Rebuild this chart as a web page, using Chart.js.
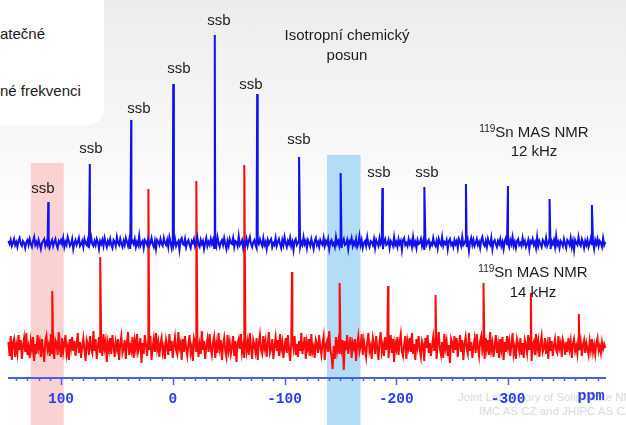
<!DOCTYPE html>
<html><head><meta charset="utf-8">
<script src="https://cdn.jsdelivr.net/npm/chart.js@4"></script>
<style>
html,body{margin:0;padding:0;}
body{width:626px;height:425px;overflow:hidden;position:relative;
 background:linear-gradient(180deg,#ececec 0px,#f2f2f2 70px,#f8f8f8 150px,#ffffff 230px);
 font-family:"Liberation Sans",Arial,sans-serif;}
#box{position:absolute;left:-20px;top:-20px;width:124px;height:145px;background:#fff;border-radius:16px;}
.t{position:absolute;font-size:15px;color:#1c1c1c;white-space:nowrap;transform:translate(-50%,-50%);line-height:1;}
.l{position:absolute;font-size:15px;color:#1c1c1c;white-space:nowrap;transform:translateY(-50%);line-height:1;}
.t sup{font-size:10px;vertical-align:0;position:relative;top:-5px;}
.wm{position:absolute;font-size:11.5px;color:#dadada;white-space:nowrap;transform:translateY(-50%);line-height:1;}
#wrap{position:absolute;left:0;top:0;width:626px;height:425px;}
</style></head>
<body>
<div id="box"></div>
<div class="l" style="left:0px;top:33px">atečné</div>
<div class="l" style="left:0px;top:90px">né frekvenci</div>
<div class="wm" style="left:458px;top:398px">Joint Laboratory of Solid State NMR</div>
<div class="wm" style="left:479px;top:412px">IMC AS CZ and JHIPC AS CZ</div>
<div id="wrap"><canvas id="c" width="626" height="425"></canvas></div>
<div class="t" style="left:43px;top:187px">ssb</div>
<div class="t" style="left:91px;top:147px">ssb</div>
<div class="t" style="left:139px;top:107px">ssb</div>
<div class="t" style="left:179px;top:67px">ssb</div>
<div class="t" style="left:219px;top:19px">ssb</div>
<div class="t" style="left:251px;top:83px">ssb</div>
<div class="t" style="left:299px;top:138px">ssb</div>
<div class="t" style="left:379px;top:171px">ssb</div>
<div class="t" style="left:427px;top:171px">ssb</div>
<div class="t" style="left:347px;top:34px">Isotropní chemický</div>
<div class="t" style="left:347px;top:54px">posun</div>
<div class="t" style="left:534px;top:131px"><sup>119</sup>Sn MAS NMR</div>
<div class="t" style="left:534px;top:150px">12 kHz</div>
<div class="t" style="left:533px;top:271px"><sup>119</sup>Sn MAS NMR</div>
<div class="t" style="left:533px;top:291px">14 kHz</div>
<script>
// ---- data ----
const ppmStart = 147;      // first noise sample (ppm)
const ppmStep = -1;        // sample spacing (ppm)
const ppmMin = -387.6, ppmMax = 147.4;
const tickValues = [100, 0, -100, -200, -300];

// 12 kHz spectrum (blue): spinning sidebands + isotropic line
const peaks12ppm = [111.4, 74.2, 37.2, -0.4, -37.6, -75.5, -113.0, -150.2, -187.5, -225.1, -262.3, -299.9, -337.1, -375.0];
const peaks12int = [41, 79, 123, 159, 208, 149, 86, 70, 55, 56, 59, 57, 44, 38];
const noise12 = [
 2,-1,3,-3,0,4,-2,1,-4,2,5,-1,-3,2,0,-5,1,3,-2,4,
 -1,-4,2,6,-2,1,-3,3,-1,-6,0,2,4,-3,1,-2,5,-4,0,3,
 -3,1,4,-2,-5,2,0,3,-1,5,-4,1,-2,6,2,-3,-1,4,-6,0,
 3,-2,1,5,-3,-1,2,-4,4,0,-2,3,-5,1,6,-1,-3,2,-2,4,
 1,-6,2,-1,3,-3,5,0,-4,2,-1,4,-2,-5,3,1,-3,6,0,-2,
 4,-1,-4,2,-2,5,1,-3,3,-6,0,2,-1,4,-4,1,-2,7,-3,0,
 2,-5,3,1,-2,4,-3,0,5,-1,-4,2,-6,3,1,-2,4,-1,-3,5,
 0,-2,3,-4,6,1,-5,2,-1,4,-3,0,2,-7,3,5,-1,-2,4,-4,
 1,3,-2,-5,2,0,4,-3,1,6,-2,-4,3,-1,2,-6,0,5,-3,1,
 -2,4,-1,3,-5,2,-3,6,0,-4,1,3,-2,5,-1,-6,2,-3,4,0,
 -1,5,-4,2,1,-3,7,-2,0,3,-5,1,-2,4,-3,2,6,-1,-4,1,
 3,-2,-5,2,-1,4,0,-3,5,-2,1,-6,3,-1,2,4,-4,0,-2,5,
 -3,1,4,-1,-5,3,-2,6,0,-4,2,-1,5,-3,1,-7,2,4,-2,0,
 3,-4,1,-2,6,-1,2,-5,3,0,-3,4,-1,-6,2,5,-2,1,-4,3,
 0,-2,5,-3,2,-1,4,-6,1,3,-2,0,-4,6,-1,2,-3,5,-5,1,
 4,-2,-1,3,-6,2,0,5,-3,1,-2,4,-4,-1,7,-2,3,-5,0,2,
 -3,6,-1,-4,2,1,-2,4,-5,3,0,-3,5,-1,2,-6,1,4,-2,-1,
 3,-5,2,0,-3,6,-2,1,-4,4,-1,2,-7,3,5,-2,0,-3,4,-1,
 2,-4,6,-2,1,-5,3,-1,0,4,-3,2,-6,5,-2,1,3,-4,0,-2,
 5,-1,-3,2,-5,4,0,-2,6,-3,1,-1,3,-6,2,4,-2,0,-4,3,
 -1,2,-5,4,1,-3,6,-2,0,3,-4,2,-8,1,5,-2,3,-3,0,4,
 -2,1,-5,3,6,-1,-3,2,-4,4,0,-2,5,-6,1,3,-1,-4,2,-1,
 4,-3,1,-6,2,5,-2,0,-4,3,-1,6,-3,1,-5,2,4,-2,0,-3,
 5,-1,2,-4,-1,3,-6,2,0,4,-2,1,-5,6,-3,2,-1,-4,3,1,
 -2,5,-3,0,4,-6,2,-1,3,-4,7,-2,1,-5,2,0,-3,4,-1,-5,
 3,1,-2,5,-4,2,-7,3,0,-2,6,-1,-3,4,1,-5,2,-2,3,-4,
 0,5,-2,1,-6,3,-1,4,-3,2,0,-4,5,-2,1
];

// 14 kHz spectrum (red)
const peaks14ppm = [107.8, 64.9, 21.8, -21.1, -64.0, -106.7, -149.3, -192.6, -235.1, -278.0, -320.4, -363.3];
const peaks14int = [56, 90, 158, 166, 182, 75, 64, 61, 52, 64, 54, 33];
const noise14 = [
 5,-9,11,-13,4,8,-10,2,-6,12,-3,7,-12,1,9,-5,14,-8,0,-11,
 6,-2,10,-14,3,-7,12,-1,5,-10,8,-4,-15,6,11,-3,2,-9,13,-6,
 1,-12,7,4,-8,15,-2,-10,9,-5,3,12,-7,0,-13,8,-1,10,-4,6,
 -9,2,14,-6,5,-11,1,9,-3,-14,7,3,-8,11,-2,-6,16,-4,8,-12,
 0,10,-5,3,-9,13,-1,6,-15,4,-3,9,-7,12,2,-10,5,-2,8,-13,
 3,11,-6,-1,7,-12,4,15,-8,1,-4,10,-11,6,-2,13,-5,0,9,-16,
 4,-7,12,2,-9,6,-3,11,-13,-1,8,-5,14,-2,5,-10,3,9,-6,0,
 -12,7,1,-8,13,-4,6,-11,2,10,-3,-7,15,-1,4,-13,8,-5,11,-2,
 -9,3,12,-6,0,-14,9,5,-4,11,-10,2,-7,16,-3,6,-12,1,8,-5,
 13,-2,-8,4,10,-11,3,-6,14,-1,7,-13,2,9,-4,-10,12,-3,5,-7,
 0,11,-9,6,-15,3,8,-2,13,-6,1,-11,10,-4,5,-8,14,-1,-12,7,
 2,-5,9,-13,4,12,-3,-7,11,-1,6,-10,3,15,-6,-2,8,-12,1,10,
 -4,7,-9,13,-2,5,-11,0,9,-6,12,-3,-14,4,8,-1,11,-8,3,-10,
 6,-4,14,-7,1,10,-12,5,-2,8,-9,13,-5,0,-11,7,3,-6,12,-1,
 -8,4,11,-13,2,6,-5,16,-3,-9,-22,1,-12,10,-4,5,-6,9,-2,7,
 -23,6,-3,12,-7,2,10,-11,4,-1,8,-14,3,11,-5,0,13,-8,6,-2,
 -10,5,14,-4,1,-12,9,3,-7,11,-2,-13,6,15,-5,2,-9,10,-3,7,
 -11,1,12,-6,8,-15,4,-2,10,-8,5,13,-4,-9,2,11,-12,6,-1,9,
 -5,14,-7,3,-13,8,0,11,-3,-10,6,2,-14,9,-1,12,-6,4,-9,1,
 10,-4,7,-12,3,15,-2,-8,5,-11,13,-1,6,-9,2,-16,8,4,-6,11,
 -3,9,-10,1,12,-5,7,-13,3,10,-2,-7,14,-4,5,-11,0,8,-6,13,
 -1,-9,6,11,-4,2,-12,9,-2,7,-8,15,-3,4,-10,1,12,-6,3,-11,
 8,-2,10,-13,5,-5,11,-1,6,-9,2,14,-7,0,-12,8,3,-4,9,-8,
 4,-11,7,2,-6,12,-3,9,-14,1,5,-8,13,-2,6,-10,3,11,-5,-1,
 9,-7,2,-12,10,-4,6,-9,1,8,-3,-6,11,-1,4,-10,7,2,-8,5,
 -5,9,-2,6,-11,3,8,-4,1,-7,10,-3,5,-9,2,7,-6,4,-2,-8,
 6,-3,8,-5,2,-7,4,9,-4,1,-6,5,-2,3,-1
];

// stacking offsets of the two spectra (intensity units)
const offset12 = 135, offset14 = 31;
// highlighted regions (ppm)
const bandRanges = [[127, 97.5], [-138, -168]];
const bandTops = [215, 223];
const bandColors = ['#fbd2d2', '#b3ddf6'];

function buildSeries(noise, pk, pkInt, off) {
  const pts = noise.map((v, i) => ({x: ppmStart + i * ppmStep, y: off + v}));
  pk.forEach((p, i) => pts.push({x: p, y: off + pkInt[i]}));
  pts.sort((a, b) => b.x - a.x);
  return pts;
}

const axisColor = '#4a5fe6';
const decor = {
  id: 'decor',
  beforeDraw(chart) {
    const {ctx, scales: {x, y}} = chart;
    ctx.save();
    bandRanges.forEach((r, i) => {
      const x1 = x.getPixelForValue(r[0]), x2 = x.getPixelForValue(r[1]);
      const yt = y.getPixelForValue(bandTops[i]);
      ctx.fillStyle = bandColors[i];
      ctx.fillRect(Math.min(x1, x2), yt, Math.abs(x2 - x1), chart.height - yt);
    });
    ctx.restore();
  },
  afterDraw(chart) {
    const {ctx, scales: {x}, chartArea} = chart;
    const yb = chartArea.bottom;
    ctx.save();
    ctx.strokeStyle = axisColor;
    ctx.lineWidth = 2;
    ctx.beginPath(); ctx.moveTo(x.left, yb); ctx.lineTo(x.right, yb); ctx.stroke();
    ctx.lineWidth = 1.5;
    for (let v = 140; v >= -380; v -= 10) {
      const px = Math.round(x.getPixelForValue(v)) + 0.5;
      const len = (v % 100 === 0) ? 7 : 3;
      ctx.beginPath(); ctx.moveTo(px, yb); ctx.lineTo(px, yb + len); ctx.stroke();
    }
    ctx.fillStyle = '#2a3ee8';
    ctx.font = 'bold 15px "Liberation Mono", monospace';
    ctx.textAlign = 'center'; ctx.textBaseline = 'middle';
    ctx.fillText('ppm', 591, 396);
    ctx.restore();
  }
};

new Chart(document.getElementById('c'), {
  type: 'line',
  data: {
    datasets: [
      {data: buildSeries(noise12, peaks12ppm, peaks12int, offset12), borderColor: '#1010f0', borderWidth: 2, pointRadius: 0, tension: 0, clip: false},
      {data: buildSeries(noise14, peaks14ppm, peaks14int, offset14), borderColor: '#ff0a0a', borderWidth: 2, pointRadius: 0, tension: 0, clip: false}
    ]
  },
  options: {
    responsive: false, animation: false, events: [],
    layout: {padding: {left: 8, right: 20, top: 0, bottom: 0}},
    plugins: {legend: {display: false}, tooltip: {enabled: false}},
    scales: {
      x: {
        type: 'linear', reverse: true, min: ppmMin, max: ppmMax,
        afterBuildTicks: s => { s.ticks = tickValues.map(v => ({value: v})); },
        afterFit: s => { s.height = 47; },
        grid: {display: false, drawTicks: false, tickLength: 0},
        border: {display: false},
        ticks: {autoSkip: false, maxRotation: 0, padding: 13, color: '#2a3ee8',
          font: {family: '"Liberation Mono", monospace', size: 14.5, weight: 'bold'},
          callback: v => String(v)}
      },
      y: {display: false, min: 0, max: 378}
    }
  },
  plugins: [decor]
});
</script>
</body></html>
